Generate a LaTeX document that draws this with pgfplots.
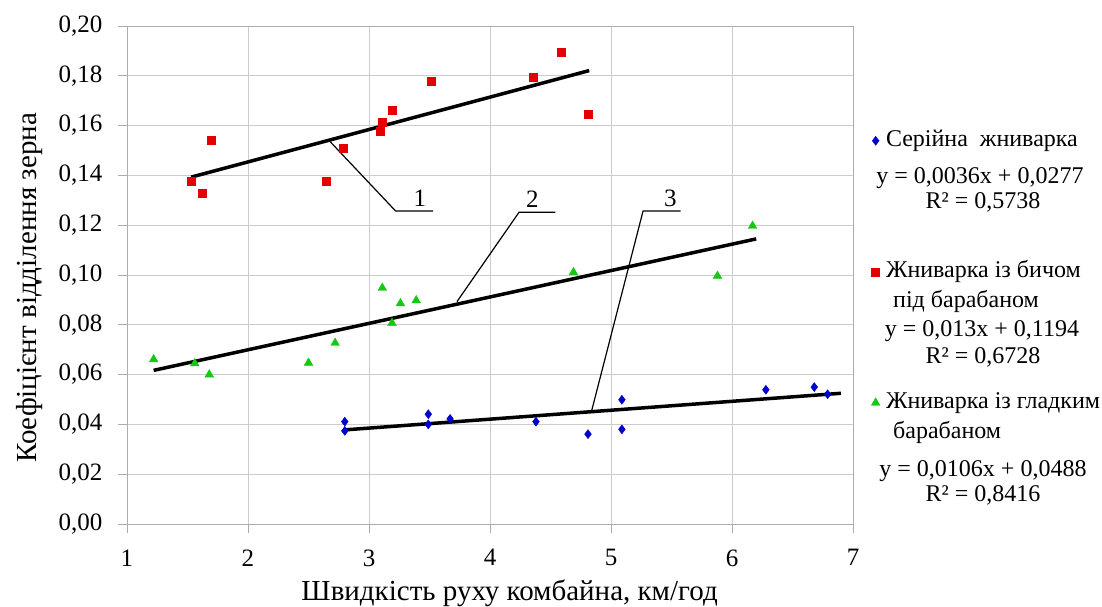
\documentclass[border=0pt]{standalone}
\usepackage{pgfplots}
\pgfplotsset{compat=1.18}
\usepackage{pgfplotstable}
\usepackage{fontspec}
\setmainfont{Liberation Serif}
\definecolor{cblue}{RGB}{0,0,204}
\definecolor{cred}{RGB}{228,0,0}
\definecolor{cgreen}{RGB}{20,200,20}
\pgfplotstableread{
x y
2.80 0.0411
2.80 0.0374
3.49 0.0441
3.49 0.0400
3.67 0.0422
4.38 0.0411
4.81 0.0361
5.09 0.0499
5.09 0.0380
6.28 0.0539
6.68 0.0550
6.79 0.0521
}\blue
\pgfplotstableread{
x y
1.53 0.1378
1.62 0.1328
1.70 0.1543
2.65 0.1378
2.79 0.1509
3.09 0.1578
3.11 0.1612
3.19 0.1663
3.51 0.1779
4.36 0.1794
4.59 0.1894
4.81 0.1644
}\red
\pgfplotstableread{
x y
1.22 0.0661
1.56 0.0645
1.68 0.0600
2.50 0.0647
2.72 0.0727
3.11 0.0948
3.19 0.0807
3.26 0.0886
3.39 0.0898
4.69 0.1011
5.88 0.0996
6.17 0.1197
}\green
\begin{document}
\fontsize{25}{30}\selectfont
\begin{tikzpicture}
\path[use as bounding box] (-127pt,-82pt) rectangle (975pt,524pt);
\begin{axis}[
  at={(0,0)}, anchor=south west,
  scale only axis, width=726pt, height=498pt,
  xmin=1, xmax=7, ymin=0, ymax=0.2,
  xtick={1,2,3,4,5,6,7},
  ytick={0,0.02,...,0.2},
  /pgf/number format/assume math mode=true,
  yticklabel style={/pgf/number format/.cd, fixed, fixed zerofill, precision=2, use comma, /tikz/.cd, xshift=-7pt},
  xticklabel style={yshift=-8pt},
  scaled y ticks=false,
  grid=major,
  grid style={draw=gray!40, line width=0.8pt},
  axis line style={draw=gray!65, line width=0.9pt},
  tick style={draw=gray!65, line width=0.9pt},
  tick align=outside, major tick length=9pt,
  xtick pos=bottom, ytick pos=left,
  clip=false,
  xlabel={Швидкість руху комбайна, км/год},
  ylabel={Коефіцієнт відділення зерна},
  xlabel style={at={(axis description cs:0.527,-0.1546)}, anchor=base, font=\fontsize{29}{34}\selectfont},
  ylabel style={at={(axis description cs:-0.1253,0.474)}, anchor=base, font=\fontsize{29}{34}\selectfont},
  legend style={draw=none, fill=none, at={(axis description cs:1.025,0.795)}, anchor=north west,
     row sep=106pt, inner sep=0pt, font=\fontsize{24}{29}\selectfont,
     nodes={text height=18pt, text depth=7pt, inner sep=0pt}},
  legend cell align=left,
  legend image code/.code={\draw[mark repeat=1,#1] plot coordinates {(6pt,0pt)};},
]
\addplot[only marks, mark=diamond*, mark size=4.5pt, color=cblue] table {\blue};
\addlegendentry{\ Серійна \ жниварка}
\addplot[only marks, mark=square*, mark size=4pt, color=cred] table {\red};
\addlegendentry{\ Жниварка із бичом}
\addplot[only marks, mark=triangle*, mark size=5pt, color=cgreen] table {\green};
\addlegendentry{\ Жниварка із гладким}
% trend lines
\addplot[forget plot, black, line width=3.5pt] coordinates {(1.53,0.1393) (4.82,0.1821)};
\addplot[forget plot, black, line width=3.5pt] coordinates {(1.22,0.0617) (6.20,0.1145)};
\addplot[forget plot, black, line width=3.5pt] coordinates {(2.80,0.0378) (6.90,0.0525)};
% callouts
\addplot[forget plot, black, line width=1.2pt] coordinates {(2.68,0.1535) (3.22,0.1257) (3.53,0.1257)};
\addplot[forget plot, black, line width=1.2pt] coordinates {(3.727,0.0893) (4.24,0.1252) (4.54,0.1252)};
\addplot[forget plot, black, line width=1.2pt] coordinates {(4.838,0.0451) (5.265,0.1257) (5.576,0.1257)};
\node[anchor=base, inner sep=0pt] at (axis cs:3.42,0.1275) {1};
\node[anchor=base, inner sep=0pt] at (axis cs:4.35,0.1272) {2};
\node[anchor=base, inner sep=0pt] at (axis cs:5.49,0.1277) {3};
\end{axis}
\begin{scope}[every node/.style={inner sep=0pt, font=\fontsize{24}{29}\selectfont}]
\node[anchor=base] at (853pt,341pt) {y = 0,0036x + 0,0277};
\node[anchor=base] at (856pt,316pt) {R² = 0,5738};
\node[anchor=base west] at (766pt,217pt) {під барабаном};
\node[anchor=base] at (855pt,188pt) {y = 0,013x + 0,1194};
\node[anchor=base] at (856pt,161pt) {R² = 0,6728};
\node[anchor=base west] at (766pt,86pt) {барабаном};
\node[anchor=base] at (856pt,48pt) {y = 0,0106x + 0,0488};
\node[anchor=base] at (856pt,23pt) {R² = 0,8416};
\end{scope}
\end{tikzpicture}
\end{document}
